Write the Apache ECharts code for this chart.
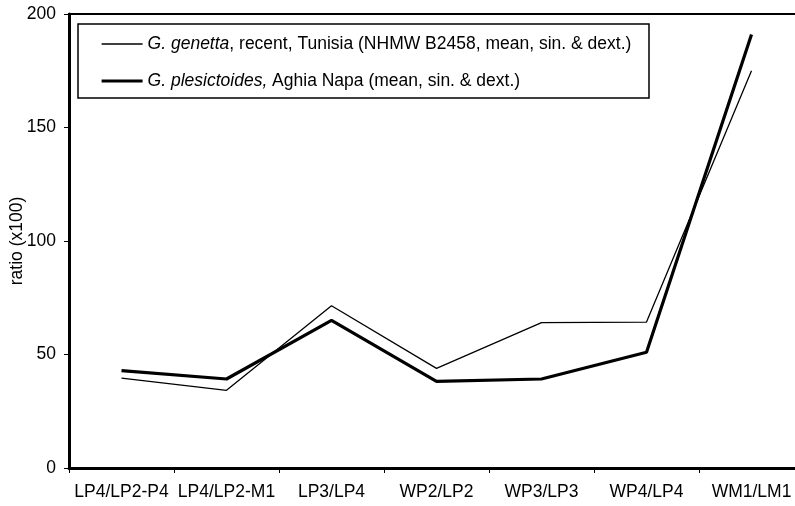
<!DOCTYPE html>
<html>
<head>
<meta charset="utf-8">
<script src="https://cdn.jsdelivr.net/npm/echarts@6/dist/echarts.min.js"></script>
<style>html,body{margin:0;padding:0;background:#fff}#c{width:795px;height:506px}</style>
</head>
<body>
<div id="c"></div>
<script>
const categories = ['LP4/LP2-P4','LP4/LP2-M1','LP3/LP4','WP2/LP2','WP3/LP3','WP4/LP4','WM1/LM1'];
const genettaValues = [39.6, 34.2, 71.5, 43.9, 64.0, 64.3, 175.0];
const plesictoidesValues = [42.9, 39.2, 65.0, 38.2, 39.2, 51.0, 191.0];
const yTicks = [0, 50, 100, 150, 200];

const chart = echarts.init(document.getElementById('c'));
const font = 'Liberation Sans, Arial, sans-serif';
const fs = 17.5;
chart.setOption({
  animation: false,
  grid: { left: 69, top: 14, bottom: 38, right: -9, outerBoundsMode: 'none', containLabel: false,
          show: true, borderColor: '#000', borderWidth: 2 },
  legend: {
    left: 95, top: 32, orient: 'vertical', itemGap: 19, itemWidth: 41, itemHeight: 14,
    padding: [3, 5, 3, 5],
    data: [
      { name: 'g', lineStyle: { width: 1.3, color: '#000' } },
      { name: 'p', lineStyle: { width: 3.2, color: '#000' } }
    ],
    itemStyle: { color: 'rgba(0,0,0,0)', borderWidth: 0, opacity: 0 },
    textStyle: { fontFamily: font, fontSize: fs, color: '#000',
      rich: { i: { fontStyle: 'italic', fontFamily: font, fontSize: fs, color: '#000' } } },
    formatter: function (n) {
      if (n === 'g') return '{i|G. genetta}, recent, Tunisia (NHMW B2458, mean, sin. & dext.)';
      return '{i|G. plesictoides,} Aghia Napa (mean, sin. & dext.)';
    }
  },
  graphic: [{
    type: 'rect', shape: { x: 78, y: 24, width: 571, height: 74 },
    style: { fill: null, stroke: '#000', lineWidth: 1.5 }, z: 100
  }],
  xAxis: {
    type: 'category', data: categories, boundaryGap: true,
    axisLine: { lineStyle: { color: '#000', width: 3 } },
    axisTick: { show: true, length: 5, lineStyle: { color: '#000', width: 1 } },
    axisLabel: { color: '#000', fontFamily: font, fontSize: fs, margin: 15, interval: 0 },
    splitLine: { show: false }
  },
  yAxis: {
    type: 'value', min: yTicks[0], max: yTicks[yTicks.length - 1], interval: 50,
    name: 'ratio (x100)', nameLocation: 'middle', nameGap: 43, nameMoveOverlap: false,
    nameTextStyle: { color: '#000', fontFamily: font, fontSize: fs },
    axisLine: { show: true, lineStyle: { color: '#000', width: 3 } },
    axisTick: { show: true, length: 5, lineStyle: { color: '#000', width: 1 } },
    axisLabel: { color: '#000', fontFamily: font, fontSize: fs, margin: 13 },
    splitLine: { show: false }
  },
  series: [
    { name: 'g', type: 'line', data: genettaValues, symbol: 'none',
      lineStyle: { color: '#000', width: 1.3 }, itemStyle: { color: '#000' } },
    { name: 'p', type: 'line', data: plesictoidesValues, symbol: 'none',
      lineStyle: { color: '#000', width: 3.2 }, itemStyle: { color: '#000' } }
  ]
});
</script>
</body>
</html>
